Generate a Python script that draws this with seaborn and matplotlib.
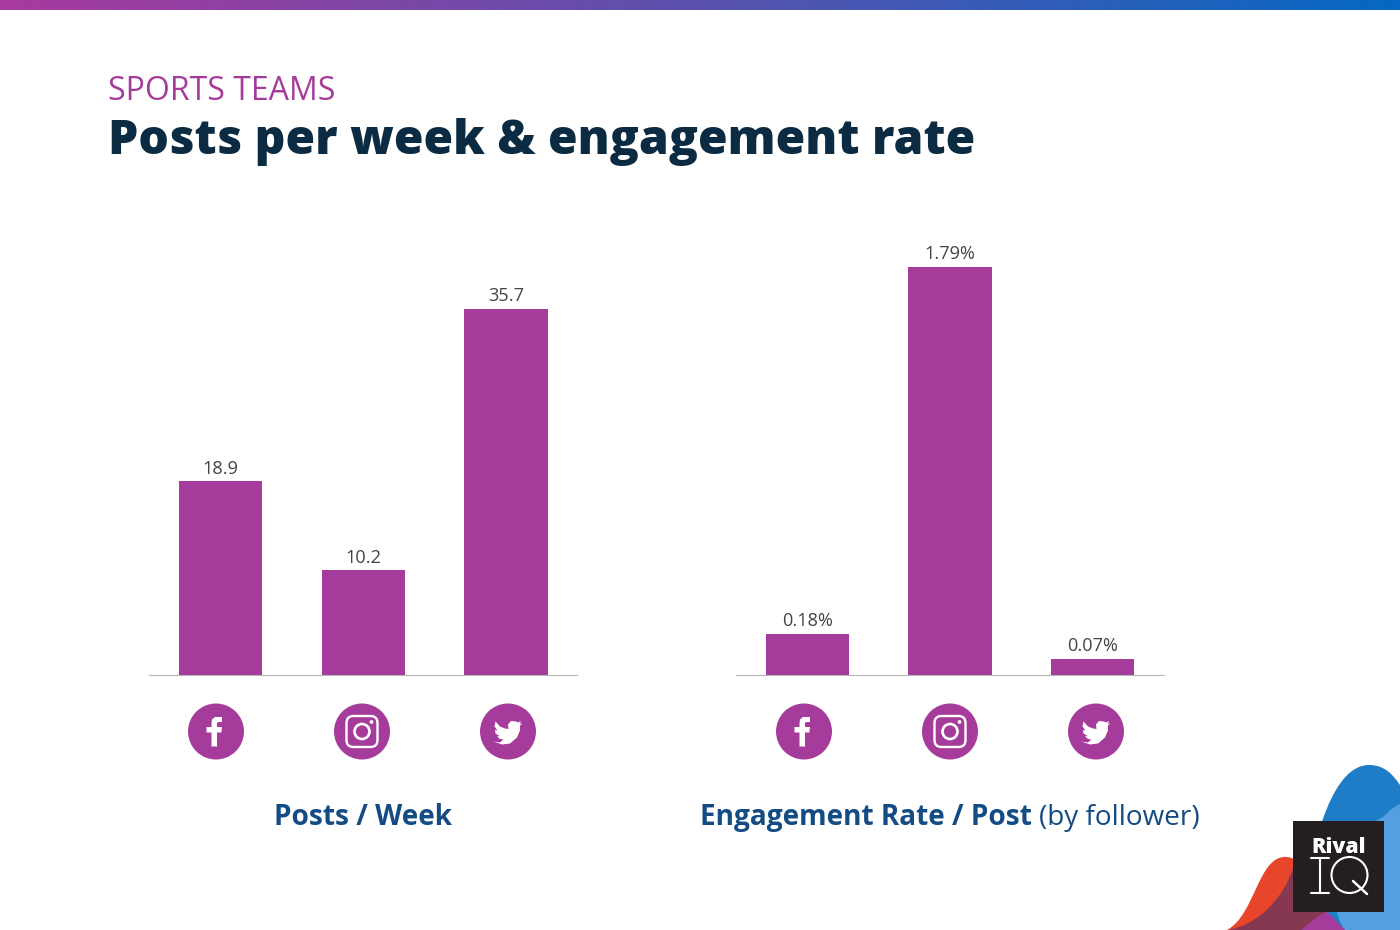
import numpy as np
import pandas as pd
import matplotlib
matplotlib.use("Agg")
import matplotlib.pyplot as plt
from matplotlib.colors import LinearSegmentedColormap
from matplotlib.patches import Circle, FancyBboxPatch, PathPatch, Polygon, Rectangle
from matplotlib.path import Path
import seaborn as sns

platforms = ["Facebook", "Instagram", "Twitter"]
posts_per_week = [18.9, 10.2, 35.7]
engagement_rate = [0.18, 1.79, 0.07]
posts_labels = ["18.9", "10.2", "35.7"]
engagement_labels = ["0.18%", "1.79%", "0.07%"]

PURPLE = "#a53c9c"
NAVY = "#0b2b42"
BLUE = "#134b84"
W, H = 1400, 930

sns.set_theme(style="white")
plt.rcParams["font.family"] = ["Open Sans", "DejaVu Sans"]

fig = plt.figure(figsize=(14, 9.3), dpi=100, facecolor="white")


def px_axes(x0, y_top, x1, y_bot):
    return fig.add_axes([x0 / W, 1 - y_bot / H, (x1 - x0) / W, (y_bot - y_top) / H])


def bars(ax, values, labels, ymax):
    df = pd.DataFrame({"platform": platforms, "value": values})
    sns.barplot(data=df, x="platform", y="value", color=PURPLE, saturation=1,
                width=0.583, linewidth=0, ax=ax)
    ax.set_xlim(-0.5, 2.5)
    ax.set_ylim(0, ymax)
    ax.bar_label(ax.containers[0], labels=labels, padding=2.6, fontsize=13.1, color="#444444")
    ax.set_xlabel("")
    ax.set_ylabel("")
    ax.set_xticks([])
    ax.set_yticks([])
    for s in ("top", "left", "right"):
        ax.spines[s].set_visible(False)
    ax.spines["bottom"].set_color("#b5b5b5")
    ax.spines["bottom"].set_linewidth(0.8)
    ax.patch.set_alpha(0)


bars(px_axes(149, 220, 577.5, 675), posts_per_week, posts_labels, 455 / 10.25)
bars(px_axes(736, 220, 1164, 675), engagement_rate, engagement_labels, 455 / 228)

# overlay in pixel coordinates for decoration and text
ov = fig.add_axes([0, 0, 1, 1], zorder=5)
ov.set_xlim(0, W)
ov.set_ylim(H, 0)
ov.axis("off")
ov.patch.set_alpha(0)

# top gradient band
cmap = LinearSegmentedColormap.from_list("band", ["#a83a9e", "#5a52ae", "#0568c2"])
ov.imshow(np.linspace(0, 1, 700).reshape(1, -1), extent=(0, W, 10.5, 0), cmap=cmap,
          aspect="auto", zorder=1)
ov.set_xlim(0, W)
ov.set_ylim(H, 0)

ov.text(108, 91.5, "SPORTS TEAMS", color=PURPLE, fontsize=23.05, va="center", ha="left",
        fontweight="normal")
ov.text(108, 142.5, "Posts per week & engagement rate", color=NAVY, fontsize=34.6,
        va="center", ha="left", fontweight=800)
ov.text(362.5, 817, "Posts / Week", color=BLUE, fontsize=20.2, va="center", ha="center",
        fontweight="bold")
ov.text(700, 817, "Engagement Rate / Post", color=BLUE, fontsize=20.2, va="center",
        ha="left", fontweight="bold")
ov.text(1039, 817.5, "(by follower)", color=BLUE, fontsize=20.1, va="center", ha="left")


def blob(points, color, z):
    """points: start vertex, then bezier triples"""
    verts = [points[0]] + points[1:] + [points[0]]
    codes = [Path.MOVETO] + [Path.CURVE4] * (len(points) - 1) + [Path.CLOSEPOLY]
    ov.add_patch(PathPatch(Path(verts, codes), fc=color, ec="none", zorder=z))


def facebook(cx, cy):
    p = [(-3.5, 15), (-3.5, 1), (-8.5, 1), (-8.5, -4.5), (-3.5, -4.5), (-3.5, -8),
         (-3, -12), (0, -14.5), (7, -14.5), (7, -9.5), (3.5, -9.5), (2, -8.5), (2, -4.5),
         (7, -4.5), (6.3, 1), (2, 1), (2, 15)]
    ov.add_patch(Polygon([(cx + a, cy + b) for a, b in p], fc="white", ec="none", zorder=4))


def instagram(cx, cy):
    ov.add_patch(FancyBboxPatch((cx - 11.5, cy - 11.5), 23, 23, boxstyle="round,pad=4,rounding_size=7",
                                fc="none", ec="white", lw=1.7, zorder=4))
    ov.add_patch(Circle((cx, cy), 7.5, fc="none", ec="white", lw=1.9, zorder=4))
    ov.add_patch(Circle((cx + 9.5, cy - 9.5), 1.9, fc="white", ec="none", zorder=4))


def twitter(cx, cy):
    v = [(-14.5, 10), (-8, 11), (-4.5, 8), (-8, 7.5), (-11, 5), (-8.5, 4.5), (-12.5, 2), (-13, -1.5),
         (-10.5, -1), (-13.5, -5), (-12.5, -10), (-8, -5), (-3, -3), (0.5, -2.5), (0, -7),
         (3, -10.5), (8, -10), (10, -9), (13, -10.5), (11.5, -7.5), (14, -8.5), (12, -5.5),
         (12, -1), (9, 6), (2, 12), (-6, 13)]
    ov.add_patch(Polygon([(cx + a, cy + b) for a, b in v], fc="white", ec="none", zorder=4,
                         joinstyle="round"))


for offset in (216, 804):
    for i, draw in enumerate((facebook, instagram, twitter)):
        cx = offset + 146 * i
        ov.add_patch(Circle((cx, 731.5), 28, fc=PURPLE, ec="none", zorder=3))
        draw(cx - (1 if i == 0 else 0), 731.5)

# logo blobs
blob([(1300, 930), (1312, 830), (1335, 765), (1369, 765), (1385, 765), (1393, 775),
      (1400, 785), (1400, 785), (1400, 930), (1400, 930)], "#1f7cc7", 2)
blob([(1345, 930), (1325, 905), (1335, 840), (1383, 817), (1390, 810), (1395, 806),
      (1400, 804), (1400, 804), (1400, 930), (1400, 930)], "#539fe0", 2.1)
blob([(1227, 930), (1255, 915), (1258, 857), (1285, 857), (1296, 857), (1300, 864),
      (1304, 872), (1304, 872), (1304, 930), (1227, 930)], "#e8452b", 2.2)
blob([(1227, 930), (1260, 925), (1285, 895), (1293, 868), (1305, 880), (1318, 900),
      (1328, 912), (1328, 912), (1302, 930), (1302, 930)], "#85384f", 2.3)
blob([(1302, 930), (1312, 920), (1320, 914), (1327, 912), (1333, 917), (1338, 923),
      (1345, 930), (1345, 930), (1302, 930), (1302, 930)], PURPLE, 2.4)
ov.add_patch(Rectangle((1293, 821), 91, 91, fc="#231f20", ec="none", zorder=3))
ov.text(1338.5, 847.5, "Rival", color="white", fontsize=15.3, fontweight=800, va="center",
        ha="center", zorder=4)
# IQ mark
ov.plot([1311, 1329], [858, 858], color="white", lw=1.5, zorder=4)
ov.plot([1311, 1329], [893, 893], color="white", lw=1.5, zorder=4)
ov.plot([1320, 1320], [858, 893], color="white", lw=1.5, zorder=4)
ov.add_patch(Circle((1349.5, 875), 18, fc="none", ec="white", lw=1.5, zorder=4))
ov.plot([1353, 1367], [881, 894], color="white", lw=1.8, zorder=4)

fig.savefig("out.png", dpi=100, facecolor="white")
